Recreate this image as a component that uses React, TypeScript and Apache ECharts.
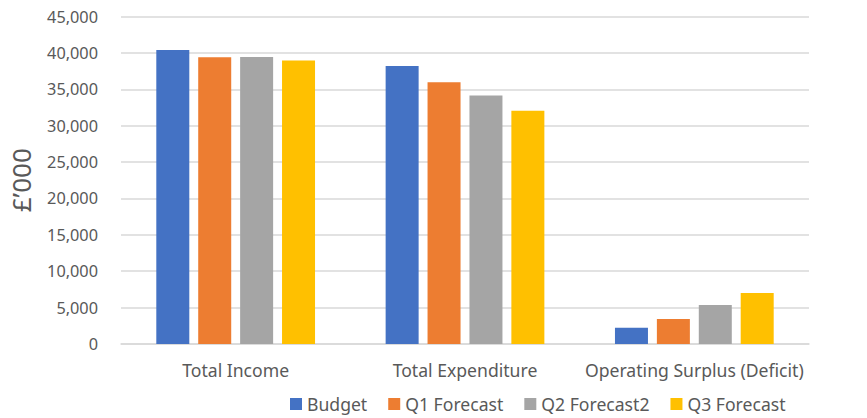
import React, { useEffect, useRef } from "react";
import * as echarts from "echarts";

const categories = ["Total Income", "Total Expenditure", "Operating Surplus (Deficit)"];
const seriesNames = ["Budget", "Q1 Forecast", "Q2 Forecast2", "Q3 Forecast"];
const budget = [40400, 38200, 2250];
const q1Forecast = [39400, 35950, 3450];
const q2Forecast2 = [39450, 34150, 5350];
const q3Forecast = [38950, 32050, 7000];
const colors = ["#4472C4", "#ED7D31", "#A5A5A5", "#FFC000"];

const FONT = "'Noto Sans', sans-serif";

export default function App() {
  const ref = useRef<HTMLDivElement>(null);
  useEffect(() => {
    if (!ref.current) return;
    const chart = echarts.init(ref.current, undefined, { renderer: "svg" });
    const values = [budget, q1Forecast, q2Forecast2, q3Forecast];
    chart.setOption({
      animation: false,
      textStyle: { fontFamily: FONT },
      grid: { left: 110, right: 58, top: 16.5, bottom: 74, containLabel: false },
      legend: {
        left: 285,
        top: 390,
        itemWidth: 12,
        itemHeight: 12,
        itemGap: 21,
        icon: "rect",
        textStyle: { fontSize: 17.6, color: "#595959", fontFamily: FONT },
        data: seriesNames,
      },
      xAxis: {
        type: "category",
        data: categories,
        axisTick: { show: false },
        axisLine: { lineStyle: { color: "#d9d9d9", width: 1.5 } },
        axisLabel: { fontSize: 17.6, color: "#595959", margin: 17, interval: 0, fontFamily: FONT },
      },
      yAxis: {
        type: "value",
        min: 0,
        max: 45000,
        interval: 5000,
        name: "£’000",
        nameLocation: "middle",
        nameGap: 87,
        nameRotate: 90,
        nameTextStyle: { fontSize: 26, color: "#595959", fontFamily: FONT },
        axisLine: { show: false },
        axisTick: { show: false },
        splitLine: { lineStyle: { color: "#d9d9d9", width: 1.5 } },
        axisLabel: {
          fontSize: 16.3,
          color: "#595959",
          margin: 23,
          fontFamily: FONT,
          formatter: (v: number) => v.toLocaleString("en-US"),
        },
      },
      series: seriesNames.map((name, i) => ({
        name,
        type: "bar",
        data: values[i],
        barWidth: 33,
        barGap: "27%",
        itemStyle: { color: colors[i] },
      })),
    });
    return () => chart.dispose();
  }, []);
  return (
    <div
      ref={ref}
      style={{ position: "absolute", left: 0, top: 0, width: 867, height: 418 }}
    />
  );
}
